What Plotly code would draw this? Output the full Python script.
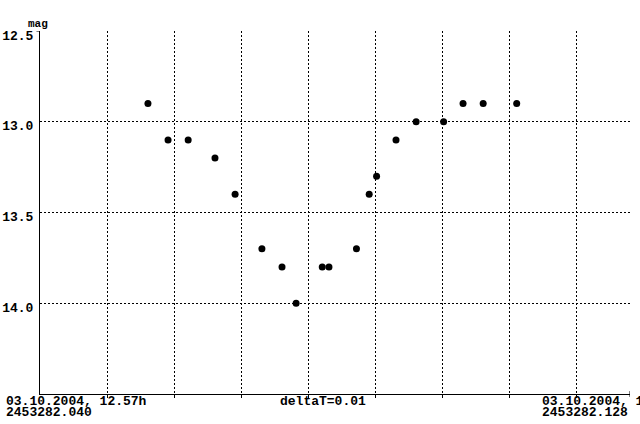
import plotly.graph_objects as go

# ---- data ----
jd = [2453282.0561, 2453282.0591, 2453282.0621, 2453282.0661, 2453282.0691,
      2453282.0731, 2453282.0761, 2453282.0782, 2453282.0821, 2453282.0831,
      2453282.0872, 2453282.0891, 2453282.0902, 2453282.0931, 2453282.0961,
      2453282.1002, 2453282.1031, 2453282.1061, 2453282.1111]
mag = [12.9, 13.1, 13.1, 13.2, 13.4, 13.7, 13.8, 14.0, 13.8, 13.8,
       13.7, 13.4, 13.3, 13.1, 13.0, 13.0, 12.9, 12.9, 12.9]

jd_start = 2453282.040
jd_end = 2453282.128
delta_t = 0.01
x_grid = [2453282.05, 2453282.06, 2453282.07, 2453282.08, 2453282.09,
          2453282.10, 2453282.11, 2453282.12]
y_ticks = [12.5, 13.0, 13.5, 14.0]
y_ticktext = ["12.5", "13.0", "13.5", "14.0"]
y_range = [14.5, 12.5]

start_label = ["03.10.2004, 12.57h", "2453282.040"]
end_label = ["03.10.2004, 14.68h", "2453282.128"]
delta_label = "deltaT=0.01"
y_title = "mag"

FONT = "Liberation Mono"

fig = go.Figure()
fig.add_trace(go.Scatter(
    x=jd, y=mag, mode="markers",
    marker=dict(symbol="circle", size=7, color="black", line=dict(width=0)),
    showlegend=False, hoverinfo="x+y"))

fig.update_layout(
    width=640, height=424,
    margin=dict(l=40, r=10, t=31, b=30, autoexpand=False),
    paper_bgcolor="white", plot_bgcolor="white",
    showlegend=False,
    xaxis=dict(
        range=[jd_start, jd_end], tickvals=x_grid, showticklabels=False,
        showgrid=True, gridcolor="black", gridwidth=1, griddash="2px,2px",
        zeroline=False, showline=True, linecolor="black", linewidth=1,
        ticks="outside", ticklen=3, tickcolor="black", tickwidth=1,
        automargin=False, fixedrange=True),
    yaxis=dict(
        range=y_range, tickvals=y_ticks, ticktext=y_ticktext,
        showgrid=True, gridcolor="black", gridwidth=1, griddash="2px,2px",
        zeroline=False, showline=True, linecolor="black", linewidth=1,
        ticks="", ticklabelstandoff=3, ticklabelshift=-4,
        tickfont=dict(family=FONT, size=13, color="black", weight="bold"),
        automargin=False, fixedrange=True),
)

# small tick at top-left and at right end of x axis
fig.add_shape(type="line", xref="paper", yref="y", x0=-0.006, x1=0,
              y0=y_range[1], y1=y_range[1], line=dict(color="black", width=1))
fig.add_shape(type="line", xref="x", yref="paper", x0=jd_end, x1=jd_end,
              y0=-0.008, y1=0.008, line=dict(color="black", width=1))

ann_font = dict(family=FONT, size=13, color="black", weight="bold")
def lab(x, y, text, anchor="left", font=ann_font):
    fig.add_annotation(xref="paper", yref="paper", x=x, y=y, text=text,
                       showarrow=False, xanchor=anchor, yanchor="middle",
                       font=font, borderpad=0)

lab(-0.059, -0.021, start_label[0])
lab(-0.059, -0.050, start_label[1])
lab(0.849, -0.021, end_label[0])
lab(0.849, -0.050, end_label[1])
lab(0.48, -0.021, delta_label, anchor="center")
lab(-0.022, 1.019, y_title,
    font=dict(family=FONT, size=11, color="black", weight="bold"))

fig.write_html("out.html",
               config=dict(displayModeBar=False),
               post_script="document.body.style.margin='0';")
